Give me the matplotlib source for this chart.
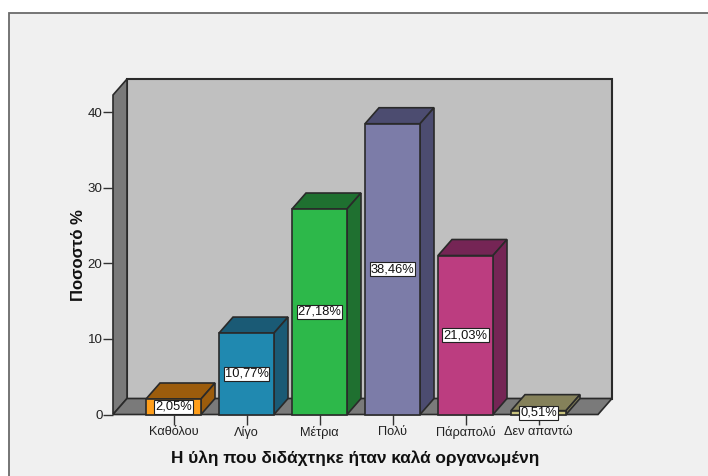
import matplotlib
matplotlib.use("Agg")
import matplotlib.pyplot as plt
from matplotlib.patches import Polygon, Rectangle

categories = ["Καθόλου", "Λίγο", "Μέτρια", "Πολύ", "Πάραπολύ", "Δεν απαντώ"]
values = [2.05, 10.77, 27.18, 38.46, 21.03, 0.51]
labels = ["2,05%", "10,77%", "27,18%", "38,46%", "21,03%", "0,51%"]
front = ["#FF9E1A", "#2089B0", "#2DB84A", "#7C7CA8", "#BC3D80", "#C8C27E"]
shade = ["#9C5C0C", "#1A5A75", "#1F7030", "#4C4C70", "#752555", "#85815A"]
yticks = [0, 10, 20, 30, 40]

W, H = 708, 476
plt.rcParams["font.family"] = ["Liberation Sans", "DejaVu Sans"]
fig = plt.figure(figsize=(W / 100, H / 100), dpi=100, facecolor="white")
bg = fig.add_axes([0, 0, 1, 1]); bg.set_axis_off(); bg.set_xlim(0, W); bg.set_ylim(H, 0)
bg.add_patch(Rectangle((8.5, 12.5), 720, 490, fc="#F0F0F0", ec="#6A6A6A", lw=1.3, clip_on=False))

# plot box in pixels
L, R, B, T = 113, 598, 414.5, 95
ax = fig.add_axes([L / W, 1 - B / H, (R - L) / W, (B - T) / H])
ax.patch.set_alpha(0)
step, ppu = 73.0, 7.56
ax.set_xlim((L - 173.5) / step, (R - 173.5) / step)
ax.set_ylim(0, (B - T) / ppu)
ddx, ddy = 14 / step, 16 / ppu
xl, xr = ax.get_xlim(); yb, yt = ax.get_ylim()
EC = "#2A2A2A"
def poly(pts, fc, z=1, lw=1.2):
    ax.add_patch(Polygon(pts, closed=True, fc=fc, ec=EC, lw=lw, clip_on=False, zorder=z, joinstyle="miter"))

# walls
poly([(xl + ddx, yb + ddy), (xr + ddx, yb + ddy), (xr + ddx, yt + ddy), (xl + ddx, yt + ddy)], "#C0C0C0", lw=1.5)
poly([(xl, yb), (xl + ddx, yb + ddy), (xl + ddx, yt + ddy), (xl, yt)], "#7A7A7A")
poly([(xl, yb), (xr, yb), (xr + ddx, yb + ddy), (xl + ddx, yb + ddy)], "#7A7A7A")

hw = 27.5 / step
for i, v in enumerate(values):
    a, b = i - hw, i + hw
    poly([(a, v), (b, v), (b + ddx, v + ddy), (a + ddx, v + ddy)], shade[i], 3)
    poly([(b, 0), (b + ddx, ddy), (b + ddx, v + ddy), (b, v)], shade[i], 3)
    poly([(a, 0), (b, 0), (b, v), (a, v)], front[i], 3)
    ax.text(i, v / 2, labels[i], ha="center", va="center", fontsize=9.3, color="#111111", zorder=5,
            bbox=dict(boxstyle="square,pad=0.08", fc="white", ec="#222222", lw=0.8), clip_on=False)

for s in ("top", "right", "left", "bottom"):
    ax.spines[s].set_visible(False)
ax.set_xticks(range(len(categories)), categories)
ax.set_yticks(yticks)
ax.tick_params(axis="x", length=7, width=1, color="#333333", labelsize=9.2, labelcolor="#222222", pad=1.5)
ax.tick_params(axis="y", length=7, width=1, color="#333333", labelsize=9.6, labelcolor="#222222", pad=0.5)
ax.set_xlabel("Η ύλη που διδάχτηκε ήταν καλά οργανωμένη", fontsize=12.4, fontweight="bold", color="#111111", labelpad=8)
ax.xaxis.label.set_x((355.5 - L) / (R - L))
ax.set_ylabel("Ποσοστό %", fontsize=12, fontweight="bold", color="#111111", labelpad=1.5)
ax.yaxis.label.set_y((B - 255) / (B - T))
fig.savefig("out.png", dpi=100, facecolor="white")
